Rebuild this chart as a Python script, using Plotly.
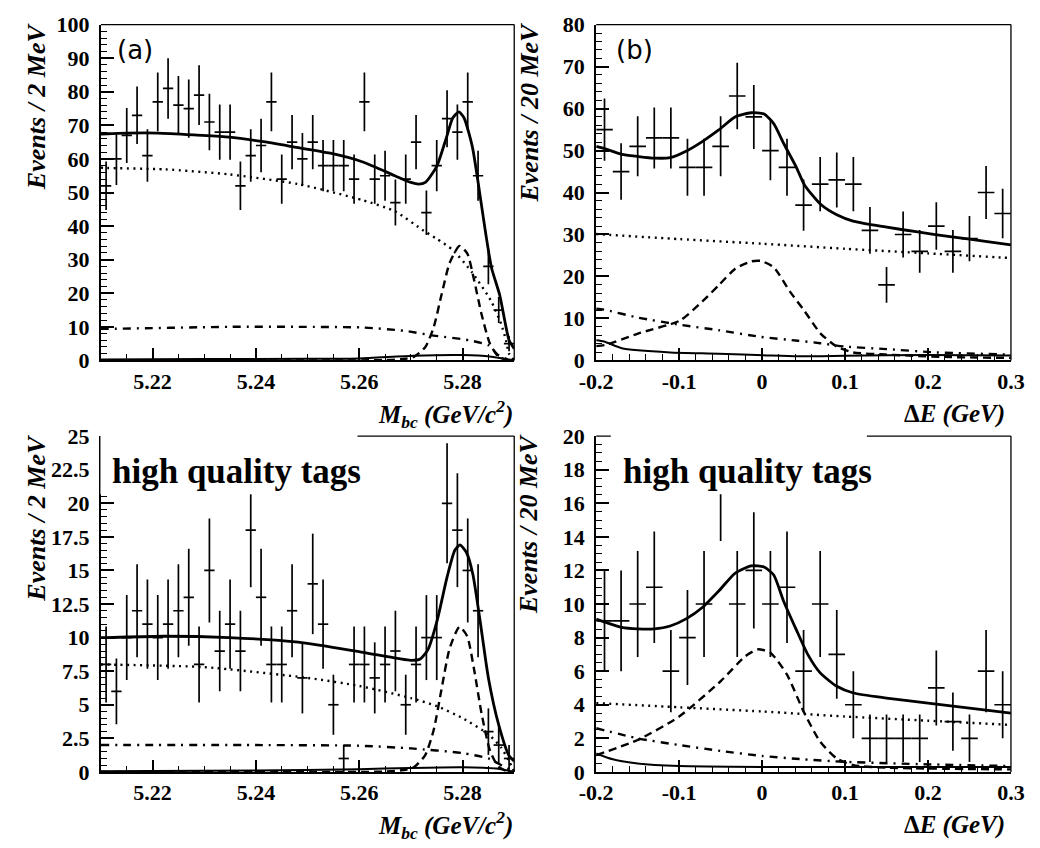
import numpy as np
import plotly.graph_objects as go

W, H = 1040, 848
SERIF = "Liberation Serif, Times New Roman, Times, serif"

# ---------------- histogram data ----------------
mbc_bins = np.round(np.arange(5.211, 5.2895, 0.002), 3)   # 2 MeV bins, 5.21 - 5.29
de_bins = np.round(np.arange(-0.19, 0.2995, 0.02), 2)     # 20 MeV bins, -0.2 - 0.3

mbc_all = [52, 60, 67, 73, 61, 77, 81, 76, 75, 79, 71, 68, 68, 52, 61, 64, 77, 54, 65, 60,
           65, 58, 58, 58, 54, 77, 54, 55, 47, 54, 65, 44, 58, 72, 68, 77, 55, 28, 15, 5]
de_all = [55, 45, 51, 53, 53, 46, 46, 51, 63, 58, 50, 46, 37, 42, 43, 42, 31, 18, 30, 26,
          32, 26, 29, 40, 35]
mbc_hq = [8, 6, 10, 12, 11, 10, 11, 12, 13, 8, 15, 9, 11, 9, 18, 13, 8, 8, 12, 7,
          14, 11, 5, 1, 8, 8, 7, 8, 9, 5, 8, 10, 10, 20, 18, 15, 12, 3, 2, 1]
de_hq = [9, 9, 10, 11, 6, 8, 10, 18, 10, 12, 10, 11, 6, 10, 7, 4, 2, 2, 2, 2,
         5, 3, 2, 6, 4]

# ---------------- fit components (a) ----------------
a_tot_x = [5.2100, 5.2112, 5.2150, 5.2211, 5.2286, 5.2348, 5.2411, 5.2473, 5.2544, 5.2607,
           5.2669, 5.2700, 5.2715, 5.2728, 5.2750, 5.2769, 5.2781, 5.2793, 5.2803, 5.2819,
           5.2831, 5.2844, 5.2856, 5.2872, 5.2890, 5.2900]
a_tot_y = [67.4, 67.5, 67.7, 67.7, 67.1, 66.5, 65.2, 63.6, 61.7, 59.1,
           55.0, 53.0, 52.5, 53.0, 57.8, 66.5, 72.2, 74.0, 72.2, 63.6,
           52.1, 38.6, 27.6, 19.4, 6.0, 3.5]
a_comb_x = [5.2100, 5.2112, 5.2224, 5.2348, 5.2482, 5.2607, 5.2669, 5.2725, 5.2750, 5.2781,
            5.2819, 5.2856, 5.2875, 5.2884, 5.2890, 5.2900]
a_comb_y = [57.4, 57.3, 56.9, 55.4, 52.5, 47.7, 44.4, 38.6, 36.2, 32.9,
            26.1, 17.5, 10.7, 6.0, 2.0, 0.0]
a_sig_x = [5.2100, 5.2650, 5.2690, 5.2707, 5.2728, 5.2744, 5.2759, 5.2775, 5.2794, 5.2809,
           5.2822, 5.2837, 5.2853, 5.2869, 5.2885, 5.2900]
a_sig_y = [0.0, 0.1, 0.5, 1.2, 4.0, 9.8, 19.4, 29.0, 34.1, 31.9,
           24.2, 13.6, 5.0, 1.2, 0.2, 0.0]
a_qq_x = [5.2100, 5.2112, 5.2350, 5.2482, 5.2607, 5.2688, 5.2744, 5.2813, 5.2850, 5.2869,
          5.2885, 5.2900]
a_qq_y = [9.4, 9.4, 10.0, 10.0, 9.8, 8.8, 7.4, 6.0, 4.5, 1.6, 0.5, 0.0]
a_bb_x = [5.2100, 5.2300, 5.2500, 5.2600, 5.2705, 5.2800, 5.2856, 5.2885, 5.2900]
a_bb_y = [0.3, 0.4, 0.5, 0.6, 1.4, 1.6, 1.1, 0.4, 0.0]

# ---------------- fit components (b) ----------------
b_tot_x = [-0.2000, -0.1906, -0.1692, -0.1497, -0.1302, -0.1108, -0.0912, -0.0717, -0.0523,
           -0.0327, -0.0132, 0.0023, 0.0140, 0.0257, 0.0413, 0.0511, 0.0705, 0.0900, 0.1096,
           0.1485, 0.1875, 0.2265, 0.2500, 0.2890, 0.3000]
b_tot_y = [51.0, 50.5, 49.1, 48.6, 48.2, 48.3, 49.9, 52.2, 54.9,
           58.0, 59.0, 58.7, 56.4, 51.8, 46.0, 41.8, 37.2, 34.7, 33.2,
           31.8, 30.6, 29.5, 28.9, 27.8, 27.5]
b_comb_x = [-0.20, -0.10, 0.00, 0.10, 0.20, 0.29, 0.30]
b_comb_y = [30.1, 28.9, 27.8, 26.6, 25.5, 24.5, 24.4]
b_sig_x = [-0.2000, -0.1887, -0.1497, -0.0990, -0.0717, -0.0523, -0.0327, -0.0132, -0.0015,
           0.0140, 0.0336, 0.0510, 0.0705, 0.0900, 0.1096, 0.1485, 0.2265, 0.3000]
b_sig_y = [3.4, 3.7, 6.4, 9.5, 14.1, 17.9, 21.8, 23.6, 23.7,
           22.2, 16.4, 11.8, 6.4, 3.3, 1.9, 1.4, 0.8, 0.6]
b_qq_x = [-0.2000, -0.1906, -0.1497, -0.0990, -0.0523, -0.0015, 0.0430, 0.0700, 0.1000,
          0.1500, 0.2100, 0.3000]
b_qq_y = [12.3, 12.1, 10.2, 8.5, 7.2, 5.6, 4.7, 4.1, 3.3, 2.7, 1.9, 1.4]
b_bb_x = [-0.2000, -0.1906, -0.1692, -0.1497, -0.1108, -0.0523, 0.0062, 0.0430, 0.1000,
          0.2000, 0.3000]
b_bb_y = [4.8, 4.5, 2.9, 2.4, 1.9, 1.6, 1.2, 1.0, 1.1, 1.3, 1.2]

# ---------------- fit components (high quality, Mbc) ----------------
c_tot_x = [5.2100, 5.2108, 5.2222, 5.2348, 5.2482, 5.2607, 5.2700, 5.2718, 5.2733, 5.2751,
           5.2770, 5.2785, 5.2795, 5.2808, 5.2820, 5.2833, 5.2850, 5.2870, 5.2890, 5.2900]
c_tot_y = [10.0, 10.0, 10.1, 10.0, 9.66, 8.9, 8.3, 8.4, 9.1, 11.3,
           14.5, 16.5, 16.9, 16.3, 14.7, 11.5, 7.0, 3.5, 1.2, 0.8]
c_comb_x = [5.2100, 5.2300, 5.2500, 5.2600, 5.2700, 5.2750, 5.2800, 5.2850, 5.2875, 5.2890, 5.2900]
c_comb_y = [8.0, 7.8, 7.0, 6.4, 5.5, 4.9, 4.0, 2.8, 1.8, 0.8, 0.0]
c_sig_x = [5.2100, 5.2650, 5.2690, 5.2707, 5.2728, 5.2744, 5.2759, 5.2775, 5.2794, 5.2809,
           5.2822, 5.2837, 5.2853, 5.2869, 5.2885, 5.2900]
c_sig_y = [0.0, 0.03, 0.16, 0.38, 1.27, 3.1, 6.1, 9.2, 10.8, 10.1,
           7.7, 4.3, 1.6, 0.4, 0.06, 0.0]
c_qq_x = [5.2100, 5.2400, 5.2600, 5.2700, 5.2800, 5.2850, 5.2875, 5.2900]
c_qq_y = [2.0, 2.0, 1.95, 1.75, 1.4, 1.0, 0.5, 0.0]
c_bb_x = [5.2100, 5.2400, 5.2600, 5.2700, 5.2800, 5.2865, 5.2900]
c_bb_y = [0.05, 0.1, 0.2, 0.3, 0.35, 0.25, 0.0]

# ---------------- fit components (high quality, dE) ----------------
d_tot_x = [-0.2000, -0.1906, -0.1692, -0.1497, -0.1302, -0.1108, -0.0912, -0.0717, -0.0523,
           -0.0327, -0.0132, 0.0023, 0.0140, 0.0257, 0.0413, 0.0550, 0.0700, 0.0900, 0.1100,
           0.1500, 0.2000, 0.2500, 0.3000]
d_tot_y = [9.1, 8.94, 8.61, 8.52, 8.52, 8.69, 9.13, 9.81, 10.77,
           11.83, 12.27, 12.2, 11.73, 10.2, 8.46, 7.0, 5.9, 5.1, 4.7,
           4.4, 4.1, 3.8, 3.5]
d_comb_x = [-0.20, -0.10, 0.00, 0.10, 0.20, 0.30]
d_comb_y = [4.1, 3.85, 3.6, 3.3, 3.05, 2.8]
d_sig_x = [-0.200, -0.150, -0.100, -0.050, -0.020, -0.005, 0.010, 0.030, 0.050, 0.070,
           0.090, 0.110, 0.150, 0.300]
d_sig_y = [1.0, 1.9, 3.3, 5.4, 6.9, 7.3, 7.1, 5.8, 3.6, 1.8,
           0.8, 0.4, 0.25, 0.15]
d_qq_x = [-0.20, -0.15, -0.10, -0.05, 0.00, 0.05, 0.10, 0.20, 0.30]
d_qq_y = [2.6, 2.0, 1.6, 1.25, 0.95, 0.75, 0.6, 0.45, 0.35]
d_bb_x = [-0.20, -0.18, -0.15, -0.10, 0.00, 0.10, 0.20, 0.30]
d_bb_y = [1.1, 0.75, 0.5, 0.35, 0.3, 0.3, 0.3, 0.3]

# ---------------- panel geometry (pixels) ----------------
panels = {
    "a": dict(xa="x", ya="y", px=(86.5, 512.5), py=(13, 359), xr=[5.21, 5.29], yr=[0, 100],
              xt=[5.22, 5.24, 5.26, 5.28], xminor=(5.21, 0.005), ydt=10, yminor=2),
    "b": dict(xa="x2", ya="y2", px=(597, 1024.5), py=(13, 359), xr=[-0.2, 0.3], yr=[0, 80],
              xt=[-0.2, -0.1, 0.0, 0.1, 0.2, 0.3], xminor=(-0.2, 0.02), ydt=10, yminor=2),
    "c": dict(xa="x3", ya="y3", px=(86.5, 512.5), py=(437, 783), xr=[5.21, 5.29], yr=[0, 25],
              xt=[5.22, 5.24, 5.26, 5.28], xminor=(5.21, 0.005), ydt=2.5, yminor=0.5),
    "d": dict(xa="x4", ya="y4", px=(597, 1024.5), py=(437, 783), xr=[-0.2, 0.3], yr=[0, 20],
              xt=[-0.2, -0.1, 0.0, 0.1, 0.2, 0.3], xminor=(-0.2, 0.02), ydt=2, yminor=0.5),
}

fig = go.Figure()


def fmt(v):
    s = ("%.2f" % v).rstrip("0").rstrip(".")
    return "0" if s in ("-0", "") else s


def add_hist(p, centers, counts, halfw):
    counts = np.asarray(counts, dtype=float)
    fig.add_trace(go.Scatter(
        x=centers, y=counts, mode="markers", xaxis=p["xa"], yaxis=p["ya"],
        marker=dict(size=1, color="rgba(0,0,0,0)"),
        error_y=dict(type="data", array=np.sqrt(counts), width=0, thickness=1.7, color="black"),
        error_x=dict(type="constant", value=halfw, width=0, thickness=1.7, color="black"),
        showlegend=False, hoverinfo="skip"))


def add_curve(p, xs, ys, dash="solid", width=2.6):
    fig.add_trace(go.Scatter(
        x=xs, y=ys, mode="lines", xaxis=p["xa"], yaxis=p["ya"],
        line=dict(color="black", width=width, dash=dash, shape="spline", smoothing=0.6),
        showlegend=False, hoverinfo="skip"))


DOT = "2px,4.5px"
DASH = "8px,5px"
DASHDOT = "8px,6px,2px,6px"

curves = {
    "a": [(a_comb_x, a_comb_y, DOT, 2.4), (a_qq_x, a_qq_y, DASHDOT, 2.4), (a_bb_x, a_bb_y, "solid", 2.0),
          (a_sig_x, a_sig_y, DASH, 2.4), (a_tot_x, a_tot_y, "solid", 2.8)],
    "b": [(b_comb_x, b_comb_y, DOT, 2.4), (b_qq_x, b_qq_y, DASHDOT, 2.4), (b_bb_x, b_bb_y, "solid", 2.0),
          (b_sig_x, b_sig_y, DASH, 2.4), (b_tot_x, b_tot_y, "solid", 2.8)],
    "c": [(c_comb_x, c_comb_y, DOT, 2.4), (c_qq_x, c_qq_y, DASHDOT, 2.4), (c_bb_x, c_bb_y, "solid", 2.0),
          (c_sig_x, c_sig_y, DASH, 2.4), (c_tot_x, c_tot_y, "solid", 2.8)],
    "d": [(d_comb_x, d_comb_y, DOT, 2.4), (d_qq_x, d_qq_y, DASHDOT, 2.4), (d_bb_x, d_bb_y, "solid", 2.0),
          (d_sig_x, d_sig_y, DASH, 2.4), (d_tot_x, d_tot_y, "solid", 2.8)],
}

hists = {"a": (mbc_bins, mbc_all, 0.001), "b": (de_bins, de_all, 0.01),
         "c": (mbc_bins, mbc_hq, 0.001), "d": (de_bins, de_hq, 0.01)}

tickfont = dict(family=SERIF, size=22, color="black", weight="bold")
layout_axes = {}
shapes = []
for key, p in panels.items():
    add_hist(p, *hists[key])
    for xs, ys, dash, w in curves[key]:
        add_curve(p, xs, ys, dash, w)

    x0, x1 = p["px"]
    y0, y1 = p["py"]
    xname = "xaxis" + p["xa"][1:]
    yname = "yaxis" + p["ya"][1:]
    yt = list(np.round(np.arange(p["yr"][0], p["yr"][1] + 1e-9, p["ydt"]), 3))
    layout_axes[xname] = dict(
        domain=[x0 / W, x1 / W], range=p["xr"], anchor=p["ya"],
        tickmode="array", tickvals=p["xt"], ticktext=[fmt(v) for v in p["xt"]],
        ticks="inside", ticklen=12, tickwidth=1.5, tickcolor="black", ticklabelstandoff=0,
        minor=dict(ticks="inside", ticklen=6, tickwidth=1.2, tickcolor="black",
                   tick0=p["xminor"][0], dtick=p["xminor"][1], showgrid=False),
        showline=True, linewidth=2.2, linecolor="black", showgrid=False, zeroline=False,
        tickfont=tickfont, fixedrange=True)
    layout_axes[yname] = dict(
        domain=[1 - y1 / H, 1 - y0 / H], range=p["yr"], anchor=p["xa"],
        tickmode="array", tickvals=yt, ticktext=[fmt(v) for v in yt],
        ticks="inside", ticklen=13, tickwidth=1.5, tickcolor="black", ticklabelstandoff=5,
        minor=dict(ticks="inside", ticklen=6, tickwidth=1.2, tickcolor="black",
                   tick0=0, dtick=p["yminor"], showgrid=False),
        showline=True, linewidth=2.2, linecolor="black", showgrid=False, zeroline=False,
        tickfont=tickfont, fixedrange=True)
    # thin frame on top and right
    shapes.append(dict(type="line", xref="paper", yref="paper", layer="above",
                       x0=x0 / W, x1=x1 / W, y0=1 - y0 / H, y1=1 - y0 / H,
                       line=dict(color="black", width=1.3)))
    shapes.append(dict(type="line", xref="paper", yref="paper", layer="above",
                       x0=x1 / W, x1=x1 / W, y0=1 - y0 / H, y1=1 - y1 / H,
                       line=dict(color="black", width=1.3)))

# white label boxes in the lower panels
for bx0, bx1 in [(86, 351), (612, 876)]:
    shapes.append(dict(type="rect", xref="paper", yref="paper", layer="above",
                       x0=bx0 / W, x1=bx1 / W, y0=1 - 497 / H, y1=1 - 434 / H,
                       fillcolor="white", line=dict(width=0)))

ann = []
ytitle_font = dict(family=SERIF, size=26, color="black", weight="bold", style="italic")
for xpx, ypx, txt in [(20, 8, "Events / 2 MeV"), (528, 8, "Events / 20 MeV"),
                      (20, 432, "Events / 2 MeV"), (528, 432, "Events / 20 MeV")]:
    ann.append(dict(text=txt, x=xpx / W, y=1 - ypx / H, xref="paper", yref="paper",
                    xanchor="center", yanchor="top", textangle=-90, showarrow=False, font=ytitle_font))
mbc_title = "M<sub>bc</sub> (GeV/c<sup>2</sup>)"
de_title = "\u0394<i>E (GeV)</i>"
xtitle_font = dict(family=SERIF, size=25, color="black", weight="bold", style="italic")
for xpx, ypx, txt, fnt in [(513, 414, mbc_title, xtitle_font),
                           (1020, 414, de_title, dict(xtitle_font, style="normal")),
                           (513, 838, mbc_title, xtitle_font),
                           (1020, 838, de_title, dict(xtitle_font, style="normal"))]:
    ann.append(dict(text=txt, x=xpx / W, y=1 - ypx / H, xref="paper", yref="paper",
                    xanchor="right", yanchor="middle", showarrow=False, font=fnt))
for xpx, txt in [(101, "(a)"), (615, "(b)")]:
    ann.append(dict(text=txt, x=xpx / W, y=1 - 39 / H, xref="paper", yref="paper",
                    xanchor="left", yanchor="middle", showarrow=False,
                    font=dict(family="DejaVu Sans", size=26, color="black")))
for xpx in [96, 623]:
    ann.append(dict(text="high quality tags", x=xpx / W, y=1 - 473 / H, xref="paper", yref="paper",
                    xanchor="left", yanchor="middle", showarrow=False,
                    font=dict(family=SERIF, size=35, color="black", weight="bold")))

fig.update_layout(width=W, height=H, margin=dict(l=0, r=0, t=0, b=0),
                  paper_bgcolor="white", plot_bgcolor="white",
                  shapes=shapes, annotations=ann, showlegend=False, **layout_axes)

fig.write_html("out.html")
